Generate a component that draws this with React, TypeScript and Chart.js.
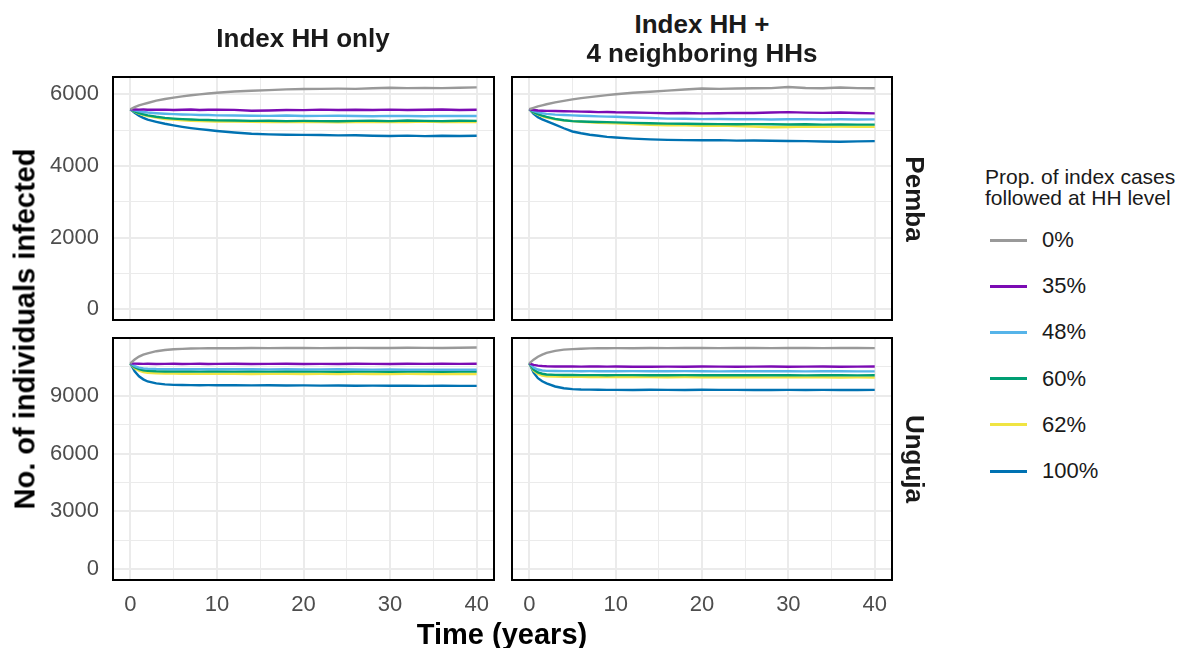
import React, { useEffect, useRef } from "react";
import { Chart, registerables } from "chart.js";
Chart.register(...registerables);

// ---------- data ----------
const TIME = [0, 0.5, 1, 1.5, 2, 3, 4, 5, 6, 7, 8, 9, 10, 12, 14, 16, 18, 20, 22, 24, 26, 28, 30, 32, 34, 36, 38, 40];
const GROUPS = ["0%", "35%", "48%", "60%", "62%", "100%"];
const COLORS = ["#999999", "#7B0BB3", "#56B4E9", "#009E73", "#F0E442", "#0072B2"];
const COLUMN_TITLES = [["Index HH only"], ["Index HH +", "4 neighboring HHs"]];
const ROW_LABELS = ["Pemba", "Unguja"];
const X_TITLE = "Time (years)";
const Y_TITLE = "No. of individuals infected";
const LEGEND_TITLE = ["Prop. of index cases", "followed at HH level"];

// grid / tick positions (major ticks are labelled, the others are minor grid lines)
const X_TICKS = [0, 5, 10, 15, 20, 25, 30, 35, 40];
const X_MAJOR = [0, 10, 20, 30, 40];
const PEMBA_Y_TICKS = [0, 1000, 2000, 3000, 4000, 5000, 6000];
const PEMBA_Y_MAJOR = [0, 2000, 4000, 6000];
const UNGUJA_Y_TICKS = [0, 1500, 3000, 4500, 6000, 7500, 9000, 10500];
const UNGUJA_Y_MAJOR = [0, 3000, 6000, 9000];

// Pemba, Index HH only
const PEMBA_IDX_0 = [5580, 5640, 5690, 5725, 5755, 5820, 5865, 5905, 5940, 5970, 5995, 6020, 6040, 6075, 6097, 6115, 6135, 6144, 6150, 6155, 6150, 6165, 6180, 6170, 6175, 6170, 6180, 6190];
const PEMBA_IDX_35 = [5580, 5575, 5570, 5572, 5568, 5565, 5570, 5560, 5565, 5572, 5560, 5568, 5570, 5562, 5540, 5545, 5560, 5555, 5570, 5560, 5565, 5558, 5570, 5560, 5565, 5572, 5560, 5568];
const PEMBA_IDX_48 = [5580, 5550, 5525, 5505, 5490, 5470, 5455, 5445, 5435, 5430, 5420, 5420, 5410, 5405, 5400, 5395, 5405, 5390, 5395, 5400, 5390, 5385, 5395, 5390, 5385, 5395, 5390, 5390];
const PEMBA_IDX_60 = [5580, 5520, 5475, 5440, 5410, 5370, 5340, 5320, 5305, 5295, 5285, 5280, 5270, 5265, 5255, 5260, 5250, 5255, 5250, 5245, 5255, 5260, 5250, 5265, 5255, 5250, 5260, 5255];
const PEMBA_IDX_62 = [5580, 5510, 5460, 5420, 5390, 5345, 5310, 5290, 5275, 5260, 5250, 5245, 5240, 5235, 5230, 5225, 5230, 5220, 5225, 5215, 5220, 5225, 5230, 5220, 5235, 5225, 5220, 5225];
const PEMBA_IDX_100 = [5580, 5480, 5400, 5340, 5290, 5230, 5175, 5130, 5090, 5055, 5025, 5000, 4975, 4930, 4895, 4880, 4870, 4865, 4860, 4850, 4855, 4840, 4835, 4845, 4830, 4840, 4835, 4840];

// Pemba, Index HH + 4 neighbouring HHs
const PEMBA_NBR_0 = [5580, 5620, 5660, 5690, 5720, 5770, 5815, 5855, 5890, 5920, 5945, 5975, 6000, 6040, 6070, 6100, 6130, 6160, 6150, 6160, 6165, 6170, 6200, 6175, 6165, 6185, 6170, 6165];
const PEMBA_NBR_35 = [5580, 5560, 5545, 5540, 5535, 5530, 5525, 5520, 5515, 5510, 5500, 5505, 5495, 5490, 5480, 5470, 5475, 5465, 5470, 5480, 5475, 5490, 5500, 5485, 5480, 5490, 5475, 5465];
const PEMBA_NBR_48 = [5580, 5530, 5495, 5470, 5450, 5430, 5420, 5410, 5400, 5390, 5380, 5375, 5370, 5350, 5335, 5320, 5315, 5305, 5310, 5300, 5305, 5295, 5300, 5305, 5295, 5300, 5295, 5298];
const PEMBA_NBR_60 = [5580, 5500, 5445, 5400, 5365, 5310, 5275, 5250, 5240, 5230, 5225, 5220, 5215, 5200, 5190, 5180, 5175, 5170, 5165, 5160, 5165, 5160, 5155, 5160, 5150, 5155, 5150, 5150];
const PEMBA_NBR_62 = [5580, 5490, 5430, 5385, 5345, 5300, 5270, 5250, 5230, 5215, 5200, 5195, 5185, 5165, 5145, 5135, 5130, 5120, 5125, 5110, 5100, 5080, 5085, 5100, 5090, 5095, 5090, 5092];
const PEMBA_NBR_100 = [5580, 5450, 5360, 5300, 5250, 5150, 5050, 4960, 4910, 4870, 4840, 4810, 4790, 4760, 4740, 4725, 4720, 4715, 4720, 4705, 4710, 4700, 4695, 4690, 4680, 4675, 4685, 4690];

// Unguja, Index HH only
const UNGUJA_IDX_0 = [10680, 10880, 11030, 11130, 11200, 11310, 11370, 11410, 11430, 11450, 11455, 11460, 11470, 11465, 11475, 11470, 11480, 11475, 11470, 11480, 11485, 11475, 11480, 11490, 11485, 11480, 11490, 11500];
const UNGUJA_IDX_35 = [10680, 10665, 10660, 10655, 10660, 10650, 10655, 10660, 10650, 10655, 10660, 10650, 10655, 10660, 10650, 10655, 10660, 10650, 10655, 10650, 10660, 10655, 10650, 10660, 10655, 10660, 10655, 10660];
const UNGUJA_IDX_48 = [10680, 10530, 10460, 10420, 10400, 10385, 10380, 10375, 10380, 10375, 10370, 10375, 10380, 10370, 10375, 10365, 10370, 10360, 10365, 10370, 10360, 10355, 10360, 10350, 10355, 10350, 10345, 10345];
const UNGUJA_IDX_60 = [10680, 10480, 10380, 10320, 10290, 10270, 10260, 10255, 10260, 10255, 10250, 10255, 10260, 10250, 10255, 10250, 10255, 10260, 10250, 10245, 10255, 10250, 10245, 10255, 10250, 10245, 10250, 10250];
const UNGUJA_IDX_62 = [10680, 10420, 10300, 10230, 10190, 10160, 10150, 10145, 10140, 10140, 10135, 10140, 10135, 10140, 10130, 10135, 10140, 10130, 10135, 10130, 10135, 10130, 10125, 10135, 10130, 10125, 10130, 10130];
const UNGUJA_IDX_100 = [10680, 10270, 10010, 9850, 9740, 9640, 9590, 9565, 9555, 9550, 9545, 9548, 9545, 9540, 9535, 9540, 9530, 9535, 9525, 9530, 9520, 9525, 9515, 9520, 9510, 9515, 9510, 9513];

// Unguja, Index HH + 4 neighbouring HHs
const UNGUJA_NBR_0 = [10680, 10870, 11020, 11130, 11220, 11330, 11390, 11420, 11440, 11455, 11460, 11465, 11470, 11465, 11475, 11470, 11480, 11475, 11470, 11480, 11475, 11470, 11480, 11475, 11470, 11475, 11480, 11470];
const UNGUJA_NBR_35 = [10680, 10600, 10560, 10540, 10530, 10520, 10515, 10515, 10510, 10515, 10520, 10510, 10515, 10505, 10500, 10510, 10505, 10515, 10510, 10505, 10510, 10515, 10505, 10510, 10515, 10505, 10510, 10515];
const UNGUJA_NBR_48 = [10680, 10460, 10360, 10310, 10290, 10280, 10275, 10278, 10272, 10275, 10270, 10276, 10272, 10275, 10270, 10268, 10275, 10270, 10265, 10270, 10272, 10268, 10270, 10265, 10270, 10268, 10265, 10265];
const UNGUJA_NBR_60 = [10680, 10360, 10210, 10140, 10100, 10080, 10075, 10072, 10070, 10068, 10070, 10065, 10068, 10070, 10065, 10062, 10068, 10065, 10060, 10065, 10062, 10060, 10065, 10058, 10062, 10060, 10058, 10060];
const UNGUJA_NBR_62 = [10680, 10300, 10130, 10050, 10010, 9990, 9985, 9980, 9978, 9975, 9970, 9975, 9972, 9965, 9970, 9962, 9965, 9958, 9962, 9955, 9960, 9952, 9955, 9950, 9955, 9948, 9950, 9945];
const UNGUJA_NBR_100 = [10680, 10200, 9910, 9750, 9640, 9480, 9390, 9345, 9325, 9315, 9310, 9306, 9306, 9300, 9310, 9305, 9300, 9308, 9302, 9305, 9300, 9295, 9305, 9300, 9302, 9298, 9300, 9306];

const PEMBA_IDX = [PEMBA_IDX_0, PEMBA_IDX_35, PEMBA_IDX_48, PEMBA_IDX_60, PEMBA_IDX_62, PEMBA_IDX_100];
const PEMBA_NBR = [PEMBA_NBR_0, PEMBA_NBR_35, PEMBA_NBR_48, PEMBA_NBR_60, PEMBA_NBR_62, PEMBA_NBR_100];
const UNGUJA_IDX = [UNGUJA_IDX_0, UNGUJA_IDX_35, UNGUJA_IDX_48, UNGUJA_IDX_60, UNGUJA_IDX_62, UNGUJA_IDX_100];
const UNGUJA_NBR = [UNGUJA_NBR_0, UNGUJA_NBR_35, UNGUJA_NBR_48, UNGUJA_NBR_60, UNGUJA_NBR_62, UNGUJA_NBR_100];

// ---------- style ----------
const FONT = '"Liberation Sans", Arial, Helvetica, sans-serif';
const GRID = "#EBEBEB";
const TICK_COLOR = "#4D4D4D";
const TEXT_COLOR = "#1A1A1A";

const YW = 113;
const XH = 40;
const TP = 30;
const RP = 30;

const borderPlugin = {
  id: "panelBorder",
  afterDraw(chart: any) {
    const { ctx, chartArea } = chart;
    ctx.save();
    ctx.strokeStyle = "#000000";
    ctx.lineWidth = 2;
    ctx.strokeRect(chartArea.left, chartArea.top, chartArea.right - chartArea.left, chartArea.bottom - chartArea.top);
    ctx.restore();
  },
};

type PanelProps = {
  rect: number[];
  showX: boolean;
  showY: boolean;
  yMin: number;
  yMax: number;
  yTicks: number[];
  yMajor: number[];
  series: number[][];
};

function Panel({ rect, showX, showY, yMin, yMax, yTicks, yMajor, series }: PanelProps) {
  const ref = useRef<HTMLCanvasElement>(null);
  const [l, t, r, b] = rect;
  const cw = r - l + YW + RP;
  const ch = b - t + TP + XH;

  useEffect(() => {
    const chart = new Chart(ref.current as HTMLCanvasElement, {
      type: "line",
      data: {
        datasets: series.map((vals, i) => ({
          label: GROUPS[i],
          data: vals.map((v, k) => ({ x: TIME[k], y: v })),
          borderColor: COLORS[i],
          backgroundColor: COLORS[i],
          borderWidth: 2.4,
          pointRadius: 0,
          tension: 0,
          fill: false,
        })),
      },
      options: {
        animation: false,
        responsive: false,
        maintainAspectRatio: false,
        events: [],
        layout: { padding: { top: TP, right: RP, left: 0, bottom: 0 } },
        plugins: { legend: { display: false }, tooltip: { enabled: false } },
        scales: {
          x: {
            type: "linear",
            min: -2,
            max: 42,
            border: { display: false },
            grid: {
              drawTicks: false,
              color: GRID,
              lineWidth: (c: any) => (c.tick && X_MAJOR.includes(c.tick.value) ? 2 : 1),
            },
            afterBuildTicks: (s: any) => {
              s.ticks = X_TICKS.map((v) => ({ value: v }));
            },
            ticks: {
              display: showX,
              autoSkip: false,
              maxRotation: 0,
              padding: 12,
              color: TICK_COLOR,
              font: { family: FONT, size: 22 },
              callback: (v: any) => (X_MAJOR.includes(Number(v)) ? String(v) : ""),
            },
            afterFit: (s: any) => {
              s.height = XH;
            },
          },
          y: {
            type: "linear",
            min: yMin,
            max: yMax,
            border: { display: false },
            grid: {
              drawTicks: false,
              color: GRID,
              lineWidth: (c: any) => (c.tick && yMajor.includes(c.tick.value) ? 2 : 1),
            },
            afterBuildTicks: (s: any) => {
              s.ticks = yTicks.map((v) => ({ value: v }));
            },
            ticks: {
              display: showY,
              autoSkip: false,
              padding: 14,
              color: TICK_COLOR,
              font: { family: FONT, size: 22 },
              callback: (v: any) => (yMajor.includes(Number(v)) ? String(v) : ""),
            },
            afterFit: (s: any) => {
              s.width = YW;
            },
          },
        },
      } as any,
      plugins: [borderPlugin],
    });
    return () => chart.destroy();
  }, []);

  return (
    <canvas
      ref={ref}
      width={cw}
      height={ch}
      style={{ position: "absolute", left: l - YW, top: t - TP, width: cw, height: ch }}
    />
  );
}

function Label({ x, y, text, size, bold, rotate, color }: any) {
  return (
    <div
      style={{
        position: "absolute",
        left: x,
        top: y,
        transform: `translate(-50%, -50%)${rotate ? ` rotate(${rotate}deg)` : ""}`,
        fontFamily: FONT,
        fontSize: size,
        fontWeight: bold ? "bold" : "normal",
        lineHeight: 1,
        whiteSpace: "nowrap",
        color: color || TEXT_COLOR,
      }}
    >
      {text}
    </div>
  );
}

export default function App() {
  const PEMBA_Y = { yMin: -300, yMax: 6480, yTicks: PEMBA_Y_TICKS, yMajor: PEMBA_Y_MAJOR };
  const UNGUJA_Y = { yMin: -560, yMax: 11995, yTicks: UNGUJA_Y_TICKS, yMajor: UNGUJA_Y_MAJOR };
  return (
    <div
      style={{
        position: "absolute",
        left: 0,
        top: 0,
        width: 1186,
        height: 648,
        overflow: "hidden",
        background: "#FFFFFF",
      }}
    >
      <Panel rect={[113, 77, 494, 320]} showX={false} showY={true} {...PEMBA_Y} series={PEMBA_IDX} />
      <Panel rect={[512, 77, 892, 320]} showX={false} showY={false} {...PEMBA_Y} series={PEMBA_NBR} />
      <Panel rect={[113, 338, 494, 580]} showX={true} showY={true} {...UNGUJA_Y} series={UNGUJA_IDX} />
      <Panel rect={[512, 338, 892, 580]} showX={true} showY={false} {...UNGUJA_Y} series={UNGUJA_NBR} />

      <Label x={303} y={38} text={COLUMN_TITLES[0][0]} size={26} bold />
      <Label x={702} y={24} text={COLUMN_TITLES[1][0]} size={26} bold />
      <Label x={702} y={53} text={COLUMN_TITLES[1][1]} size={26} bold />

      <Label x={915} y={199} text={ROW_LABELS[0]} size={26} bold rotate={90} />
      <Label x={915} y={459} text={ROW_LABELS[1]} size={26} bold rotate={90} />

      <Label x={25} y={329} text={Y_TITLE} size={29} bold rotate={-90} color="#000000" />
      <Label x={502} y={634} text={X_TITLE} size={29} bold color="#000000" />

      <div
        style={{
          position: "absolute",
          left: 985,
          top: 165.5,
          fontFamily: FONT,
          fontSize: 21,
          lineHeight: "21px",
          color: TEXT_COLOR,
          whiteSpace: "nowrap",
        }}
      >
        {LEGEND_TITLE[0]}
        <br />
        {LEGEND_TITLE[1]}
      </div>
      {GROUPS.map((g, i) => {
        const yc = 240 + i * 46.2;
        return (
          <React.Fragment key={g}>
            <div
              style={{
                position: "absolute",
                left: 990,
                top: yc - 1.5,
                width: 37,
                height: 3,
                background: COLORS[i],
              }}
            />
            <div
              style={{
                position: "absolute",
                left: 1042,
                top: yc,
                transform: "translateY(-50%)",
                fontFamily: FONT,
                fontSize: 22,
                lineHeight: 1,
                color: TEXT_COLOR,
                whiteSpace: "nowrap",
              }}
            >
              {g}
            </div>
          </React.Fragment>
        );
      })}
    </div>
  );
}
